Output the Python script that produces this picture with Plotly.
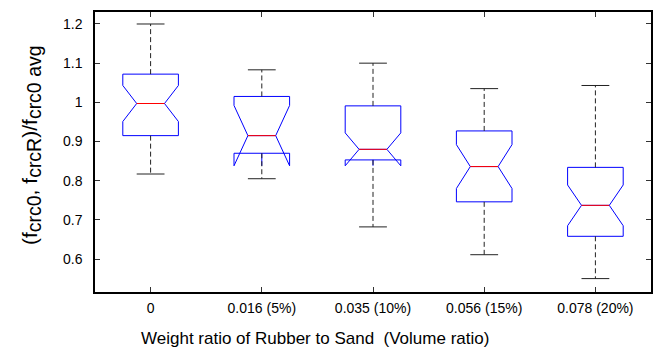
import plotly.graph_objects as go

categories = ["0", "0.016 (5%)", "0.035 (10%)", "0.056 (15%)", "0.078 (20%)"]
positions = [1, 2, 3, 4, 5]
q1 = [0.915, 0.870, 0.853, 0.746, 0.658]
median = [0.997, 0.915, 0.880, 0.836, 0.737]
q3 = [1.072, 1.015, 0.991, 0.927, 0.834]
lower_whisker = [0.817, 0.805, 0.682, 0.611, 0.550]
upper_whisker = [1.200, 1.083, 1.100, 1.035, 1.043]
notch_span = [0.046, 0.077, 0.042, 0.056, 0.052]

y_tickvals = [0.6, 0.7, 0.8, 0.9, 1.0, 1.1, 1.2]
y_ticktext = ["0.6", "0.7", "0.8", "0.9", "1", "1.1", "1.2"]

BOX_W = 0.5
NOTCH_HALF = BOX_W / 4
CAP_HALF = BOX_W / 4
FONT = "Liberation Sans, Arial, sans-serif"

fig = go.Figure()

# blue notched boxes (whiskers suppressed; drawn separately)
fig.add_trace(go.Box(
    x=positions, q1=q1, median=median, q3=q3,
    lowerfence=q1, upperfence=q3, notchspan=notch_span,
    notched=True, notchwidth=0.25, width=BOX_W, whiskerwidth=0,
    line=dict(color="#0000FF", width=1), fillcolor="rgba(0,0,0,0)",
    boxpoints=False, hoverinfo="skip", showlegend=False,
))

# dashed whiskers
wx, wy = [], []
for p, a, b, lo, hi in zip(positions, q1, q3, lower_whisker, upper_whisker):
    wx += [p, p, None, p, p, None]
    wy += [b, hi, None, a, lo, None]
fig.add_trace(go.Scatter(x=wx, y=wy, mode="lines",
                         line=dict(color="#222222", width=1, dash="5px,3px"),
                         hoverinfo="skip", showlegend=False))

# whisker caps
cx, cy = [], []
for p, lo, hi in zip(positions, lower_whisker, upper_whisker):
    cx += [p - CAP_HALF, p + CAP_HALF, None, p - CAP_HALF, p + CAP_HALF, None]
    cy += [hi, hi, None, lo, lo, None]
fig.add_trace(go.Scatter(x=cx, y=cy, mode="lines",
                         line=dict(color="#222222", width=1),
                         hoverinfo="skip", showlegend=False))

# red medians
mx, my = [], []
for p, m in zip(positions, median):
    mx += [p - NOTCH_HALF, p + NOTCH_HALF, None]
    my += [m, m, None]
fig.add_trace(go.Scatter(x=mx, y=my, mode="lines",
                         line=dict(color="#FF0000", width=1),
                         hoverinfo="skip", showlegend=False))

axis_common = dict(
    showline=True, linecolor="black", linewidth=1.5, mirror="ticks",
    ticks="inside", ticklen=5, tickwidth=1, tickcolor="#333333",
    showgrid=False, zeroline=False,
    tickfont=dict(family=FONT, size=14, color="black"),
)

SUB = "<sub><span style='font-size:19.5px'>{}</span></sub>"

fig.update_layout(
    width=661, height=348,
    margin=dict(l=95, r=8, t=12, b=56),
    paper_bgcolor="white", plot_bgcolor="white",
    xaxis=dict(range=[0.5, 5.5], tickvals=positions, ticktext=categories,
               ticklabelstandoff=2, **axis_common),
    yaxis=dict(range=[0.5158, 1.2306], tickvals=y_tickvals, ticktext=y_ticktext,
               ticklabelstandoff=8, **axis_common),
    annotations=[
        dict(text="Weight ratio of Rubber to Sand  (Volume ratio)",
             xref="paper", yref="paper", x=0.396, y=-0.125,
             xanchor="center", yanchor="top", showarrow=False,
             font=dict(family=FONT, size=17, color="black")),
        dict(text="(f" + SUB.format("crc0") + ", f" + SUB.format("crcR")
                  + ")/f" + SUB.format("crc0 avg"),
             xref="paper", yref="paper", x=-0.115, y=0.525,
             xanchor="center", yanchor="middle", textangle=-90, showarrow=False,
             font=dict(family=FONT, size=21, color="black")),
    ],
)

fig.write_html("out.html")
